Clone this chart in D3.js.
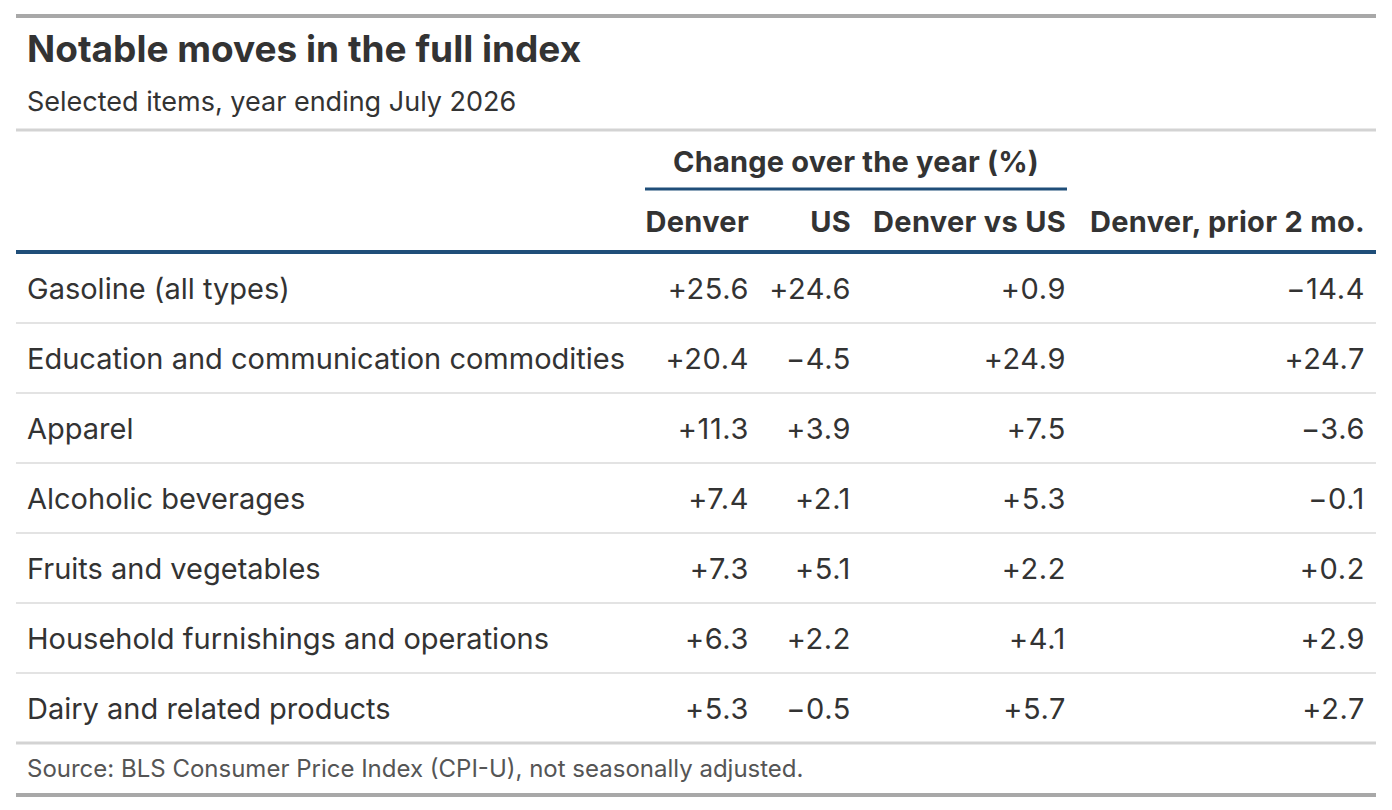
<!DOCTYPE html>
<html>
<head>
<meta charset="utf-8">
<script src="https://cdn.jsdelivr.net/npm/d3@7"></script>
<style>
  body { margin: 0; background: #fff; }
  svg text { font-family: Inter, "Noto Sans", sans-serif; fill: #333; }
</style>
</head>
<body>
<div id="table"></div>
<script>
// table data
var items = ["Gasoline (all types)", "Education and communication commodities", "Apparel",
  "Alcoholic beverages", "Fruits and vegetables", "Household furnishings and operations",
  "Dairy and related products"];
var denver = [25.6, 20.4, 11.3, 7.4, 7.3, 6.3, 5.3];
var us = [24.6, -4.5, 3.9, 2.1, 5.1, 2.2, -0.5];
var diff = [0.9, 24.9, 7.5, 5.3, 2.2, 4.1, 5.7];
var prior = [-14.4, 24.7, -3.6, -0.1, 0.2, 2.9, 2.7];
var columns = ["Denver", "US", "Denver vs US", "Denver, prior 2 mo."];
var spanner = "Change over the year (%)";
var title = "Notable moves in the full index";
var subtitle = "Selected items, year ending July 2026";
var source = "Source: BLS Consumer Price Index (CPI-U), not seasonally adjusted.";

var width = 1392, height = 810;
var left = 16, right = 1376;
var fmt = function (v) { return (v < 0 ? "\u2212" : "+") + Math.abs(v).toFixed(1); };

var svg = d3.select("#table").append("svg").attr("width", width).attr("height", height);

// rows
var y = d3.scaleBand().domain(d3.range(items.length)).range([253, 743]);
// right edge of each value column
var colX = d3.scaleOrdinal().domain(columns).range([749, 851, 1066, 1365]);

function hline(yy, x1, x2, w, c) {
  svg.append("line").attr("x1", x1).attr("x2", x2).attr("y1", yy).attr("y2", yy)
    .attr("stroke", c).attr("stroke-width", w);
}

// heading
hline(16, left, right, 4, "#a8a8a8");
svg.append("text").attr("x", 27).attr("y", 62).text(title)
  .style("font-size", "37px").style("font-weight", 700);
svg.append("text").attr("x", 27).attr("y", 111).text(subtitle)
  .style("font-size", "27px");
hline(130, left, right, 3, "#d3d3d3");

// spanner
svg.append("text").attr("x", (645 + 1067) / 2).attr("y", 172).attr("text-anchor", "middle")
  .text(spanner).style("font-size", "29px").style("font-weight", 700)
  .style("letter-spacing", "0.2px");
hline(189, 645, 1067, 3, "#1f4e79");

// column labels
svg.selectAll("text.col").data(columns).enter().append("text").attr("class", "col")
  .attr("x", function (d) { return colX(d); }).attr("y", 232).attr("text-anchor", "end")
  .text(function (d) { return d; }).style("font-size", "29px").style("font-weight", 700)
  .style("letter-spacing", "0.3px");
hline(252, left, right, 4, "#1f4e79");

// row separators
svg.selectAll("line.sep").data(d3.range(1, items.length)).enter().append("line").attr("class", "sep")
  .attr("x1", left).attr("x2", right)
  .attr("y1", function (i) { return y(i); }).attr("y2", function (i) { return y(i); })
  .attr("stroke", "#e3e3e3").attr("stroke-width", 2);

var rows = svg.selectAll("g.row").data(items).enter().append("g").attr("class", "row")
  .attr("transform", function (d, i) { return "translate(0," + (y(i) + y.bandwidth() / 2 + 1) + ")"; });

rows.append("text").attr("x", 27).attr("dy", "0.35em").text(function (d) { return d; })
  .style("font-size", "29px");

var series = [denver, us, diff, prior];
series.forEach(function (s, j) {
  rows.append("text").attr("x", colX(columns[j])).attr("dy", "0.35em").attr("text-anchor", "end")
    .text(function (d, i) { return fmt(s[i]); }).style("font-size", "29px")
    .style("letter-spacing", "0.6px");
});

hline(743, left, right, 3, "#d3d3d3");
svg.append("text").attr("x", 27).attr("y", 777).text(source)
  .style("font-size", "24px").style("fill", "#555");
hline(795, left, right, 4, "#a8a8a8");
</script>
</body>
</html>
